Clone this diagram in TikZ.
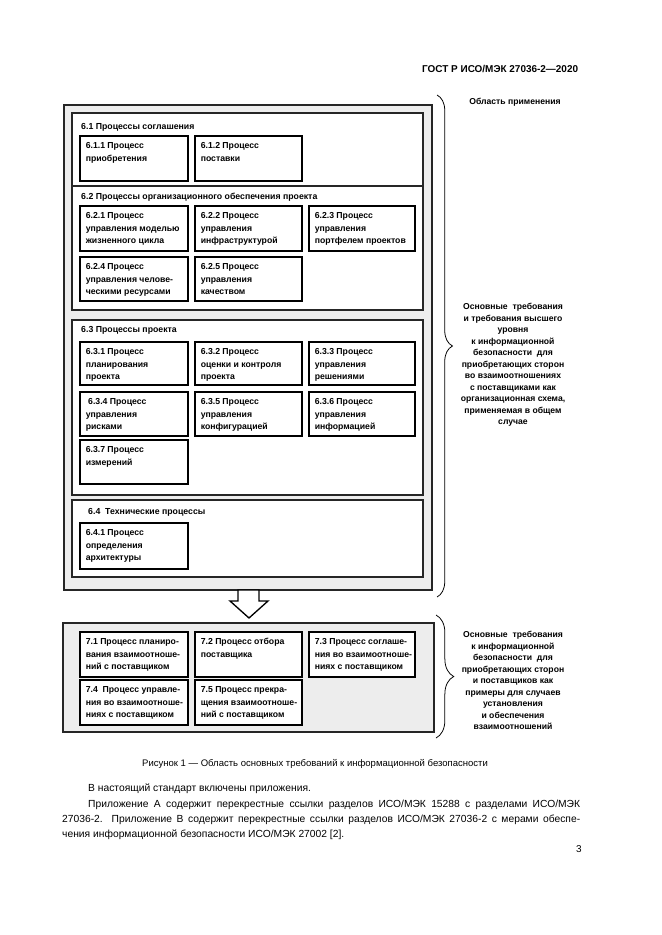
\documentclass[tikz,border=0pt]{standalone}
\usepackage{fontspec}
\setmainfont{Liberation Sans}
\usetikzlibrary{fit,decorations.pathreplacing}
\tikzset{
 outerbox/.style={draw=black!85, line width=1.5pt, fill=black!7, inner sep=0pt},
 secbox/.style={draw=black!85, line width=1.2pt, fill=white, inner sep=0pt},
 procbox/.style={draw=black, line width=1.6pt, fill=white, inner sep=0pt},
 ptext/.style={anchor=north west, inner sep=0pt, align=left, font=\fontsize{7.85}{11.3}\selectfont\bfseries},
 htext/.style={anchor=west, inner sep=0pt, font=\fontsize{7.9}{10}\selectfont\bfseries},
 rtext/.style={align=center, inner sep=0pt, font=\fontsize{7.8}{10.4}\selectfont\bfseries},
 bodytext/.style={anchor=base west, inner sep=0pt, font=\fontsize{9.3}{12}\selectfont},
 bracepath/.style={decorate, line width=0.7pt},
 blockarrow/.style={draw=black, line width=1.2pt, fill=white, line join=miter},
}
\newcommand\pbox[6]{%
 \node[procbox, fit={(#2,#3) (#4,#5)}] (#1) {};
 \node[ptext] (#1t) at ([xshift=5.8bp, yshift=-6.5bp]#1.north west) {#6};}
\begin{document}
\begin{tikzpicture}[x=0.9006bp,y=-0.9006bp]
\useasboundingbox[fill=white] (0,0) rectangle (661,935);

\node[anchor=base east, font=\fontsize{9}{10}\selectfont\bfseries] (hdr) at (582,72) {ГОСТ Р ИСО/МЭК 27036-2—2020};

% upper outer box
\node[outerbox, fit={(64,105) (432,590)}] (outer1) {};
\node[secbox, fit={(72,113) (423,186)}] (s61) {};
\node[secbox, fit={(72,186) (423,310)}] (s62) {};
\node[secbox, fit={(72,320) (423,495)}] (s63) {};
\node[secbox, fit={(72,500) (423,577)}] (s64) {};

\node[htext] (h61) at (81,127) {6.1 Процессы соглашения};
\pbox{p611}{80}{136}{188}{181}{6.1.1 Процесс\\приобретения}
\pbox{p612}{195}{136}{302}{181}{6.1.2 Процесс\\поставки}

\node[htext] (h62) at (81,197) {6.2 Процессы организационного обеспечения проекта};
\pbox{p621}{80}{206}{188}{251}{6.2.1 Процесс\\управления моделью\\жизненного цикла}
\pbox{p622}{195}{206}{302}{251}{6.2.2 Процесс\\управления\\инфраструктурой}
\pbox{p623}{309}{206}{415}{251}{6.2.3 Процесс\\управления\\портфелем проектов}
\pbox{p624}{80}{257}{188}{301}{6.2.4 Процесс\\управления челове-\\ческими ресурсами}
\pbox{p625}{195}{257}{302}{301}{6.2.5 Процесс\\управления\\качеством}

\node[htext] (h63) at (81,330) {6.3 Процессы проекта};
\pbox{p631}{80}{342}{188}{385}{6.3.1 Процесс\\планирования\\проекта}
\pbox{p632}{195}{342}{302}{385}{6.3.2 Процесс\\оценки и контроля\\проекта}
\pbox{p633}{309}{342}{415}{385}{6.3.3 Процесс\\управления\\решениями}
\pbox{p634}{80}{392}{188}{436}{\ 6.3.4 Процесс\\управления\\рисками}
\pbox{p635}{195}{392}{302}{436}{6.3.5 Процесс\\управления\\конфигурацией}
\pbox{p636}{309}{392}{415}{436}{6.3.6 Процесс\\управления\\информацией}
\pbox{p637}{80}{440}{188}{484}{6.3.7 Процесс\\измерений}

\node[htext] (h64) at (88,512) {6.4\ \ Технические процессы};
\pbox{p641}{80}{523}{188}{569}{6.4.1 Процесс\\определения\\архитектуры}

% lower outer box
\node[outerbox, fit={(63,623) (434,732)}] (outer2) {};
\pbox{p71}{80}{632}{188}{677}{7.1 Процесс планиро-\\вания взаимоотноше-\\ний с поставщиком}
\pbox{p72}{195}{632}{302}{677}{7.2 Процесс отбора\\поставщика}
\pbox{p73}{309}{632}{415}{677}{7.3 Процесс соглаше-\\ния во взаимоотноше-\\ниях с поставщиком}
\pbox{p74}{80}{680}{188}{725}{7.4\ \ Процесс управле-\\ния во взаимоотноше-\\ниях с поставщиком}
\pbox{p75}{195}{680}{302}{725}{7.5 Процесс прекра-\\щения взаимоотноше-\\ний с поставщиком}

% block arrow between the boxes
\draw[blockarrow] (238,590) -- (259,590) -- (259,601) -- (268,601) -- (249,618) -- (230,601) -- (238,601) -- cycle;

% braces
\coordinate (b1t) at (437,95);
\coordinate (b1b) at (437,597);
\draw[bracepath, decoration={brace, amplitude=14pt}] (b1t) -- (b1b);
\coordinate (b2t) at (436,615);
\coordinate (b2b) at (436,738);
\draw[bracepath, decoration={brace, amplitude=16pt}] (b2t) -- (b2b);

% right texts
\node[rtext] (scope) at (515,102) {Область применения};
\node[rtext, anchor=north] (req1) at (513,303) {Основные\ \ требования\\и требования высшего\\уровня\\к информационной\\безопасности\ \ для\\приобретающих сторон\\во взаимоотношениях\\с поставщиками как\\организационная схема,\\применяемая в общем\\случае};
\node[rtext, anchor=north] (req2) at (513,631) {Основные\ \ требования\\к информационной\\безопасности\ \ для\\приобретающих сторон\\и поставщиков как\\примеры для случаев\\установления\\и обеспечения\\взаимоотношений};

% caption and body text
\node[anchor=base, inner sep=0pt, font=\fontsize{8.6}{10}\selectfont] (cap) at (315,766) {Рисунок 1 — Область основных требований к информационной безопасности};
\node[bodytext] (par1) at (88,791.5) {В настоящий стандарт включены приложения.};
\node[bodytext] (par2) at (88,807.5) {\makebox[443bp][s]{Приложение А содержит перекрестные ссылки разделов ИСО/МЭК 15288 с разделами ИСО/МЭК}};
\node[bodytext] (par3) at (62,822.5) {\makebox[466.5bp][s]{27036-2. Приложение В содержит перекрестные ссылки разделов ИСО/МЭК 27036-2 с мерами обеспе-}};
\node[bodytext] (par4) at (62,837.5) {чения информационной безопасности ИСО/МЭК 27002 [2].};
\node[anchor=base east, inner sep=0pt, font=\fontsize{9}{10}\selectfont] (pg) at (582,852) {3};
\end{tikzpicture}
\end{document}
